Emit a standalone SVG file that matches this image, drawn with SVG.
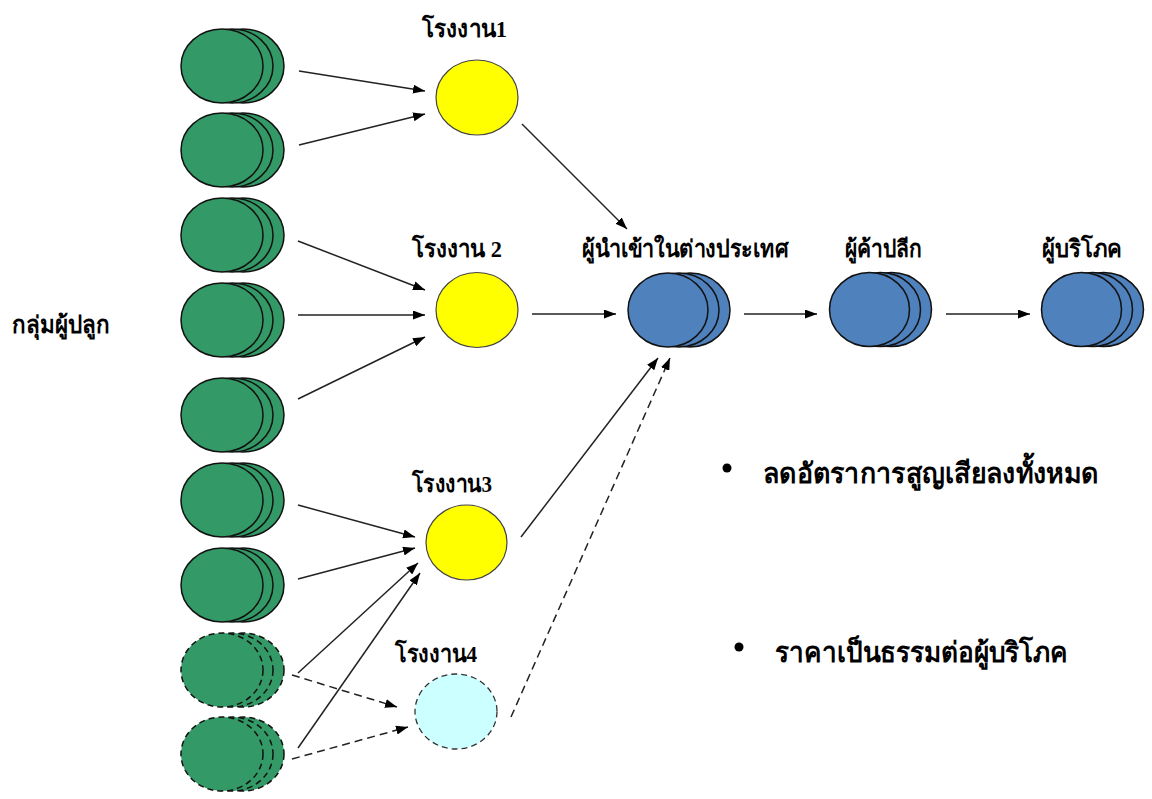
<svg xmlns="http://www.w3.org/2000/svg" xmlns:xlink="http://www.w3.org/1999/xlink" width="1152" height="799" viewBox="0 0 1152 799">
<style>
.lbl{font-family:"Liberation Serif","Noto Sans","DejaVu Sans",serif;font-weight:bold;font-size:24px;fill:#000}
.big{font-size:28px}
.g{fill:#339966;stroke:#111;stroke-width:1.5}
.gd{fill:#339966;stroke:#111;stroke-width:1.5;stroke-dasharray:6 4}
.b{fill:#4F81BD;stroke:#111;stroke-width:1.5}
.y{fill:#FFFF00;stroke:#444;stroke-width:1.2}
.c{fill:#CCFFFF;stroke:#333;stroke-width:1.3;stroke-dasharray:6 4}
.ln{stroke:#222;stroke-width:1.5;fill:none;marker-end:url(#ah)}
.dl{stroke:#222;stroke-width:1.5;fill:none;stroke-dasharray:8 5;marker-end:url(#ah)}
</style>
<defs>
<marker id="ah" markerUnits="userSpaceOnUse" markerWidth="12" markerHeight="9" refX="12" refY="4.5" orient="auto">
<path d="M0,0 L12,4.5 L0,9 z" fill="#000"/>
</marker>
<g id="gs"><ellipse class="g" cx="21" cy="0" rx="41" ry="37"/><ellipse class="g" cx="10" cy="0" rx="41" ry="37"/><ellipse class="g" cx="0" cy="0" rx="41" ry="37"/></g>
<g id="gsd"><ellipse class="gd" cx="21" cy="0" rx="41" ry="37"/><ellipse class="gd" cx="10" cy="0" rx="41" ry="37"/><ellipse class="gd" cx="0" cy="0" rx="41" ry="37"/></g>
<g id="bs"><ellipse class="b" cx="22" cy="0" rx="40" ry="37"/><ellipse class="b" cx="11" cy="0" rx="40" ry="37"/><ellipse class="b" cx="0" cy="0" rx="40" ry="37"/></g>
</defs>
<rect width="1152" height="799" fill="#fff"/>

<g id="growers">
<text class="lbl" x="12" y="333" textLength="98" lengthAdjust="spacingAndGlyphs">กลุ่มผู้ปลูก</text>
<g id="grower1"><use xlink:href="#gs" x="222" y="66"/></g>
<g id="grower2"><use xlink:href="#gs" x="222" y="150"/></g>
<g id="grower3"><use xlink:href="#gs" x="222" y="235"/></g>
<g id="grower4"><use xlink:href="#gs" x="222" y="320"/></g>
<g id="grower5"><use xlink:href="#gs" x="222" y="415"/></g>
<g id="grower6"><use xlink:href="#gs" x="222" y="500"/></g>
<g id="grower7"><use xlink:href="#gs" x="222" y="585"/></g>
<g id="grower8"><use xlink:href="#gsd" x="222" y="670"/></g>
<g id="grower9"><use xlink:href="#gsd" x="222" y="754"/></g>
</g>

<g id="factory1">
<ellipse class="y" cx="477" cy="97.5" rx="41" ry="37.5"/>
<text class="lbl" x="422" y="37" textLength="85" lengthAdjust="spacingAndGlyphs">โรงงาน1</text>
</g>
<g id="factory2">
<ellipse class="y" cx="477" cy="310" rx="41" ry="37.5"/>
<text class="lbl" x="412" y="257" textLength="90" lengthAdjust="spacingAndGlyphs">โรงงาน 2</text>
</g>
<g id="factory3">
<ellipse class="y" cx="466.5" cy="542.5" rx="40.5" ry="37.5"/>
<text class="lbl" x="412" y="492" textLength="80" lengthAdjust="spacingAndGlyphs">โรงงาน3</text>
</g>
<g id="factory4">
<ellipse class="c" cx="456" cy="711.5" rx="41" ry="37.5"/>
<text class="lbl" x="395" y="662" textLength="82" lengthAdjust="spacingAndGlyphs">โรงงาน4</text>
</g>
<g id="importer">
<use xlink:href="#bs" x="668" y="310"/>
<text class="lbl" x="582" y="257" textLength="206" lengthAdjust="spacingAndGlyphs">ผู้นำเข้าในต่างประเทศ</text>
</g>
<g id="retailer">
<use xlink:href="#bs" x="869.5" y="309.5"/>
<text class="lbl" x="845" y="257" textLength="77" lengthAdjust="spacingAndGlyphs">ผู้ค้าปลีก</text>
</g>
<g id="consumer">
<use xlink:href="#bs" x="1081.5" y="309.5"/>
<text class="lbl" x="1042" y="257" textLength="80" lengthAdjust="spacingAndGlyphs">ผู้บริโภค</text>
</g>
<g id="notes">
<circle cx="727" cy="468" r="4.5" fill="#000"/>
<text class="lbl big" x="763" y="483" textLength="335" lengthAdjust="spacingAndGlyphs">ลดอัตราการสูญเสียลงทั้งหมด</text>
<circle cx="739" cy="647" r="4.5" fill="#000"/>
<text class="lbl big" x="775" y="662" textLength="293" lengthAdjust="spacingAndGlyphs">ราคาเป็นธรรมต่อผู้บริโภค</text>
</g>

<g id="connectors">
<line class="ln" x1="299" y1="71" x2="425" y2="91"/>
<line class="ln" x1="299" y1="145" x2="425" y2="114"/>
<line class="ln" x1="298" y1="241" x2="425" y2="290"/>
<line class="ln" x1="298" y1="315" x2="425" y2="315"/>
<line class="ln" x1="298" y1="399" x2="425" y2="337"/>
<line class="ln" x1="298" y1="505" x2="415" y2="537"/>
<line class="ln" x1="298" y1="579" x2="415" y2="548"/>
<line class="ln" x1="298" y1="673" x2="418" y2="563"/>
<line class="ln" x1="298" y1="748" x2="420" y2="573"/>
<line class="dl" x1="292" y1="675" x2="397" y2="707"/>
<line class="dl" x1="292" y1="759" x2="408" y2="727"/>
<line class="ln" x1="522" y1="124" x2="627" y2="229"/>
<line class="ln" x1="532" y1="314" x2="616" y2="314"/>
<line class="ln" x1="521" y1="537" x2="658" y2="358"/>
<line class="dl" x1="511" y1="717" x2="670" y2="358"/>
<line class="ln" x1="744" y1="314" x2="817" y2="314"/>
<line class="ln" x1="946" y1="314" x2="1030" y2="314"/>
</g>
</svg>
